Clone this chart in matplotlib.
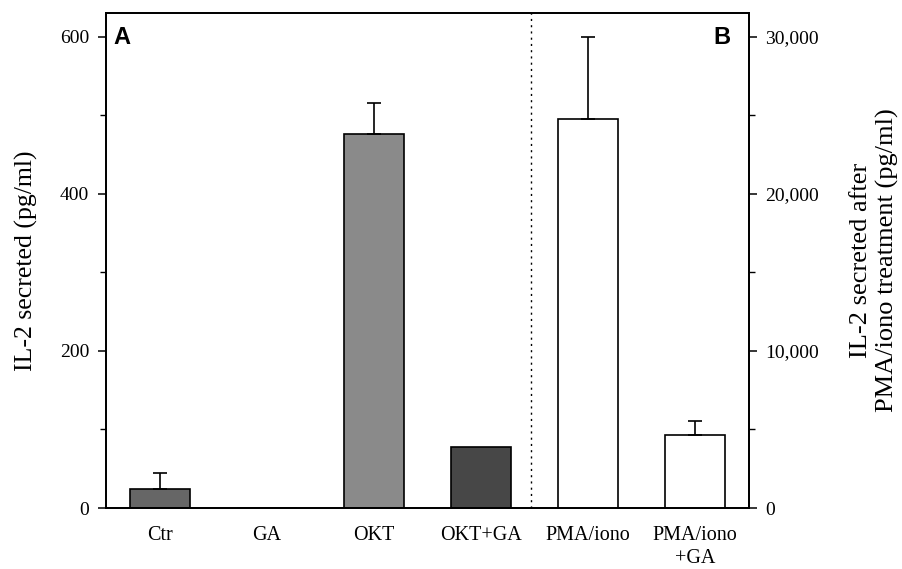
import matplotlib
matplotlib.use("Agg")
import matplotlib.pyplot as plt
from matplotlib.ticker import FixedLocator, FuncFormatter

categories = ["Ctr", "GA", "OKT", "OKT+GA", "PMA/iono", "PMA/iono\n+GA"]
# values on the left axis scale (pg/ml) for panel A
values_a = [24, 0, 476, 78]
errors_a = [21, 0, 40, 0]
# panel B values on right axis scale (pg/ml)
values_b = [24750, 4650]
errors_b = [5250, 900]
left_ticks = [0, 200, 400, 600]
right_ticks = [0, 10000, 20000, 30000]
colors_a = ["#666666", "#ffffff", "#8a8a8a", "#474747"]

plt.rcParams["font.family"] = ["Liberation Serif", "DejaVu Serif"]

fig = plt.figure(figsize=(9.02, 5.69), dpi=100)
ax = fig.add_axes([0.1175, 0.1072, 0.7125, 0.8698])
ax2 = ax.twinx()

ratio = 50.0
xa = list(range(4))
xb = [4, 5]
w = 0.56
ax.bar(xa, values_a, width=w, color=colors_a, edgecolor="black", linewidth=1.2, zorder=2)
for x, v, e in zip(xa, values_a, errors_a):
    if e > 0:
        ax.errorbar(x, v, yerr=[[0], [e]], fmt="none", ecolor="black", elinewidth=1.2,
                    capsize=5, capthick=1.2, zorder=3)
ax2.bar(xb, values_b, width=w, color="white", edgecolor="black", linewidth=1.2, zorder=2)
for x, v, e in zip(xb, values_b, errors_b):
    ax2.errorbar(x, v, yerr=[[0], [e]], fmt="none", ecolor="black", elinewidth=1.2,
                 capsize=5, capthick=1.2, zorder=3)

ax.set_xlim(-0.5, 5.5)
ax.set_ylim(0, 630)
ax2.set_ylim(0, 630 * ratio)

ax.axvline(3.47, color="black", linestyle=(0, (1.5, 3)), linewidth=1.0)

ax.set_xticks(range(6))
ax.set_xticklabels(categories, fontsize=14.5, linespacing=1.25)
ax.tick_params(axis="x", length=0, pad=13)
ax.yaxis.set_major_locator(FixedLocator(left_ticks))
ax.yaxis.set_minor_locator(FixedLocator([100, 300, 500]))
ax.tick_params(axis="y", which="major", direction="out", length=6, width=1.1, labelsize=14, pad=6)
ax.tick_params(axis="y", which="minor", direction="out", length=4, width=1.0)

ax2.yaxis.set_major_locator(FixedLocator(right_ticks))
ax2.yaxis.set_minor_locator(FixedLocator([5000, 15000, 25000]))
ax2.yaxis.set_major_formatter(FuncFormatter(lambda v, p: f"{int(v):,}"))
ax2.tick_params(axis="y", which="major", direction="out", length=6, width=1.1, labelsize=14, pad=6)
ax2.tick_params(axis="y", which="minor", direction="out", length=4, width=1.0)

for a in (ax, ax2):
    for s in a.spines.values():
        s.set_linewidth(1.3)

ax.set_ylabel("IL-2 secreted (pg/ml)", fontsize=18.5)
ax.yaxis.set_label_coords(-0.106, 0.5)
ax2.set_ylabel("IL-2 secreted after\nPMA/iono treatment (pg/ml)", fontsize=19,
               rotation=90, linespacing=1.2, va="center")
ax2.yaxis.set_label_coords(1.196, 0.5)

ax.text(0.011, 0.95, "A", transform=ax.transAxes, fontsize=17, fontweight="bold",
        family=["Liberation Sans", "DejaVu Sans"], va="center", ha="left")
ax.text(0.958, 0.95, "B", transform=ax.transAxes, fontsize=17, fontweight="bold",
        family=["Liberation Sans", "DejaVu Sans"], va="center", ha="center")

fig.savefig("out.png", dpi=100)
